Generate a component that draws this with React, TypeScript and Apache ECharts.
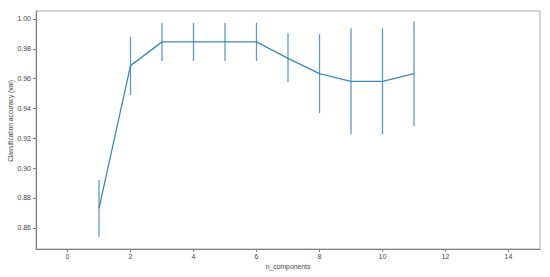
import React, { useEffect, useRef } from "react";
import * as echarts from "echarts";

const nComponents = [1, 2, 3, 4, 5, 6, 7, 8, 9, 10, 11];
const meanAcc = [0.873, 0.9687, 0.9846, 0.9846, 0.9846, 0.9846, 0.9736, 0.9633, 0.9582, 0.9582, 0.9633];
const upperAcc = [0.892, 0.988, 0.9973, 0.9973, 0.9973, 0.9973, 0.9904, 0.9897, 0.9937, 0.9937, 0.9984];
const lowerAcc = [0.854, 0.949, 0.9718, 0.9718, 0.9718, 0.9718, 0.9575, 0.9369, 0.9228, 0.9228, 0.9282];
const xTicks = [0, 2, 4, 6, 8, 10, 12, 14];
const yTicks = [0.86, 0.88, 0.9, 0.92, 0.94, 0.96, 0.98, 1.0];
const xName = "n_components";
const yName = "Classification accuracy (val)";

const LINE = "#3f88bb";
const FONT = "Liberation Sans";

export default function App() {
  const ref = useRef<HTMLDivElement>(null);
  useEffect(() => {
    document.body.style.margin = "0";
    if (!ref.current) return;
    const chart = echarts.init(ref.current, undefined, { renderer: "svg" });
    const errData = nComponents.map((x, i) => [x, lowerAcc[i], upperAcc[i]]);
    chart.setOption({
      animation: false,
      backgroundColor: "#ffffff",
      grid: {
        left: 36,
        right: 10,
        top: 11,
        bottom: 28,
        outerBoundsMode: "none",
        show: true,
        borderColor: "#aaaaaa",
        borderWidth: 1,
        backgroundColor: "transparent",
      },
      graphic: [
        {
          type: "text",
          x: 288,
          y: 266,
          style: {
            text: xName,
            fontFamily: FONT,
            fontSize: 6.8,
            fill: "#444",
            align: "center",
            verticalAlign: "middle",
          },
        },
        {
          type: "text",
          x: 10,
          y: 121,
          rotation: Math.PI / 2,
          style: {
            text: yName,
            fontFamily: FONT,
            fontSize: 6.6,
            fill: "#444",
            align: "center",
            verticalAlign: "middle",
          },
        },
      ],
      xAxis: {
        type: "value",
        min: -1,
        max: 15,
        splitLine: { show: false },
        axisLine: { show: true, onZero: false, lineStyle: { color: "#808080" } },
        axisTick: { show: true, length: 3, lineStyle: { color: "#808080" }, customValues: xTicks },
        axisLabel: {
          fontFamily: FONT,
          fontSize: 7,
          color: "#444",
          margin: 4,
          customValues: xTicks,
          formatter: (v: number) => String(v),
        },
      },
      yAxis: {
        type: "value",
        min: 0.8458,
        max: 1.0053,
        splitLine: { show: false },
        axisLine: { show: true, onZero: false, lineStyle: { color: "#808080" } },
        axisTick: { show: true, length: 3, lineStyle: { color: "#808080" }, customValues: yTicks },
        axisLabel: {
          fontFamily: FONT,
          fontSize: 7,
          color: "#444",
          margin: 5,
          customValues: yTicks,
          formatter: (v: number) => v.toFixed(2),
        },
      },
      series: [
        {
          type: "line",
          data: nComponents.map((x, i) => [x, meanAcc[i]]),
          showSymbol: false,
          symbol: "none",
          lineStyle: { color: LINE, width: 1.3 },
          z: 3,
        },
        {
          type: "custom",
          data: errData,
          z: 2,
          renderItem: (params: any, api: any) => {
            const x = api.value(0);
            const lo = api.coord([x, api.value(1)]);
            const hi = api.coord([x, api.value(2)]);
            return {
              type: "line",
              shape: { x1: lo[0], y1: lo[1], x2: hi[0], y2: hi[1] },
              style: { stroke: "#5f9cc6", lineWidth: 1.3 },
            };
          },
        },
      ],
    });
    return () => chart.dispose();
  }, []);
  return <div ref={ref} style={{ width: 550, height: 277 }} />;
}
